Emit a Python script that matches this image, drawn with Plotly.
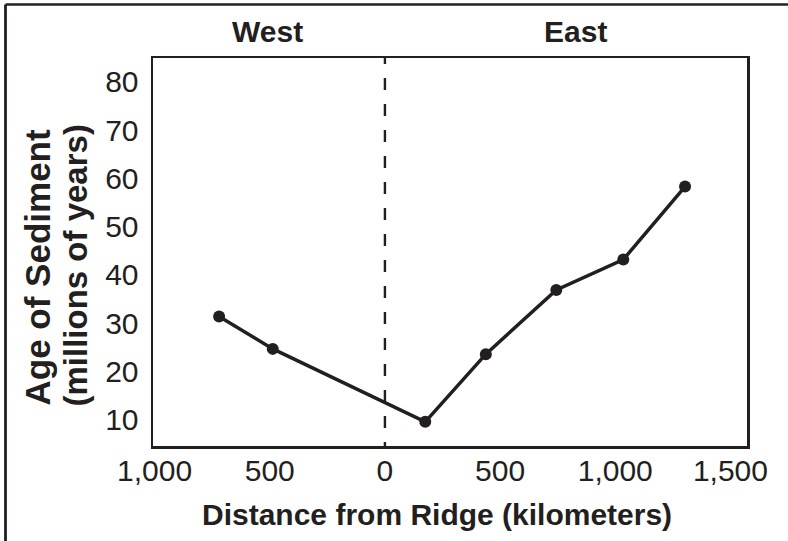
import plotly.graph_objects as go

# ---- data ----
distance_km = [-720, -487, 175, 438, 744, 1035, 1303]
age_my = [31.4, 24.7, 9.6, 23.6, 36.9, 43.2, 58.3]
x_tick_vals = [-1000, -500, 0, 500, 1000, 1500]
x_tick_text = ["1,000", "500", "0", "500", "1,000", "1,500"]
y_tick_vals = [10, 20, 30, 40, 50, 60, 70, 80]
y_tick_text = ["10", "20", "30", "40", "50", "60", "70", "80"]
ridge_x = 0
side_labels = ["West", "East"]

# ---- styling / layout ----
W, H = 788, 541
L, R, T, B = 153, 747, 58, 446
INK = "#231f20"
FONT = "Liberation Sans, Arial, Helvetica, sans-serif"


def pxx(px):
    return (px - L) / (R - L)


def pxy(py):
    return (B - py) / (B - T)


fig = go.Figure()
fig.add_trace(go.Scatter(
    x=distance_km, y=age_my, mode="lines+markers",
    line=dict(color=INK, width=3.5),
    marker=dict(size=12, color=INK),
    showlegend=False, hoverinfo="skip",
))

dash_pattern = "6px,14px" + ",12px,14px" * 16

shapes = [
    # ridge (dashed line at 0 km)
    dict(type="line", xref="x", yref="paper", x0=ridge_x, x1=ridge_x,
         y0=1, y1=0, line=dict(color=INK, width=2.4, dash=dash_pattern)),
    # outer frame: top and left edges
    dict(type="line", xref="paper", yref="paper", x0=pxx(5.5), x1=pxx(792),
         y0=pxy(4.5), y1=pxy(4.5), line=dict(color=INK, width=2.4)),
    dict(type="line", xref="paper", yref="paper", x0=pxx(5.5), x1=pxx(5.5),
         y0=pxy(4.5), y1=pxy(545), line=dict(color=INK, width=2.8)),
]

annotations = [
    dict(text="<b>%s</b>" % side_labels[0], xref="paper", yref="paper",
         x=pxx(267), y=pxy(31.5), xanchor="center", yanchor="middle",
         showarrow=False, font=dict(family=FONT, size=30, color=INK)),
    dict(text="<b>%s</b>" % side_labels[1], xref="paper", yref="paper",
         x=pxx(575), y=pxy(31.5), xanchor="center", yanchor="middle",
         showarrow=False, font=dict(family=FONT, size=30, color=INK)),
    dict(text="<b>Distance from Ridge (kilometers)</b>", xref="paper", yref="paper",
         x=pxx(436.5), y=pxy(514), xanchor="center", yanchor="middle",
         showarrow=False, font=dict(family=FONT, size=30, color=INK)),
    dict(text="<b>Age of Sediment</b>", xref="paper", yref="paper",
         x=pxx(37), y=pxy(267.5), xanchor="center", yanchor="middle", textangle=-90,
         showarrow=False, font=dict(family=FONT, size=35, color=INK)),
    dict(text="<b>(millions of years)</b>", xref="paper", yref="paper",
         x=pxx(75), y=pxy(265.5), xanchor="center", yanchor="middle", textangle=-90,
         showarrow=False, font=dict(family=FONT, size=33, color=INK)),
]

axis_common = dict(
    showgrid=False, zeroline=False, showline=True, mirror=True,
    linecolor=INK, linewidth=2.5, ticks="",
    tickfont=dict(family=FONT, size=30, color=INK),
)

fig.update_layout(
    width=W, height=H,
    margin=dict(l=L, r=W - R, t=T, b=H - B, pad=0),
    paper_bgcolor="white", plot_bgcolor="white",
    xaxis=dict(range=[-1007, 1572], tickvals=x_tick_vals, ticktext=x_tick_text,
               ticklabelstandoff=-4, **axis_common),
    yaxis=dict(range=[4.6, 84.9], tickvals=y_tick_vals, ticktext=y_tick_text,
               ticklabelstandoff=6, **axis_common),
    shapes=shapes, annotations=annotations,
    font=dict(family=FONT, color=INK),
)

fig.write_html("out.html", config={"displayModeBar": False, "staticPlot": True},
               post_script="document.body.style.margin='0';")
